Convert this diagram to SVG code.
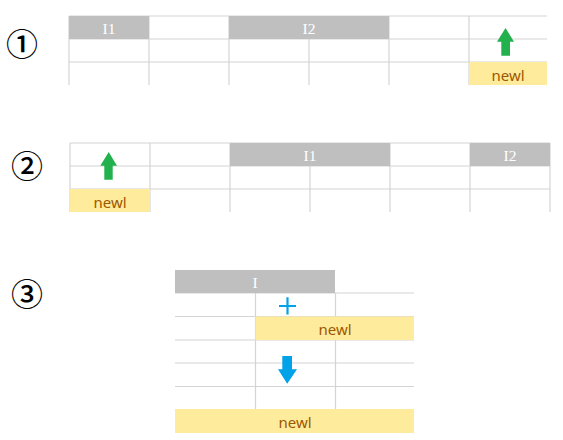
<svg xmlns="http://www.w3.org/2000/svg" width="563" height="440" viewBox="0 0 563 440">
<style>
.grid line{stroke:#d4d4d4;stroke-width:1.2}
.hdr{fill:#bfbfbf}
.hdrt{font-family:"Liberation Serif",serif;font-size:15.5px;fill:#ffffff;text-anchor:middle}
.nw{fill:#ffeb9c}
.nwt{font-family:"Noto Sans","Liberation Sans",sans-serif;font-size:15px;fill:#9c5700;text-anchor:middle}
.num{font-family:"Noto Sans CJK SC","DejaVu Sans",sans-serif;font-size:32px;font-weight:500;fill:#000;text-anchor:middle}
.ga{fill:#22b14c}
.ba{fill:#00a2e8}
</style>
<rect width="563" height="440" fill="#ffffff"/>
<!-- Panel 1 -->
<g id="panel1">
<text class="num" x="22" y="56">①</text>
<g class="grid">
<line x1="69" y1="16" x2="547" y2="16"/>
<line x1="69" y1="39" x2="547" y2="39"/>
<line x1="69" y1="62" x2="547" y2="62"/>
<line x1="69" y1="16" x2="69" y2="85"/>
<line x1="149" y1="16" x2="149" y2="85"/>
<line x1="229" y1="16" x2="229" y2="85"/>
<line x1="309" y1="39" x2="309" y2="85"/>
<line x1="389" y1="16" x2="389" y2="85"/>
<line x1="469" y1="16" x2="469" y2="85"/>
</g>
<rect class="hdr" x="69" y="16" width="80" height="23"/>
<rect class="hdr" x="229" y="16" width="160" height="23"/>
<text class="hdrt" x="109" y="34">I1</text>
<text class="hdrt" x="309" y="34">I2</text>
<rect class="nw" x="469" y="62" width="78" height="23"/>
<text class="nwt" x="508" y="81">newl</text>
<polygon class="ga" points="505.5,28 514,41.7 510,41.7 510,55.7 501.3,55.7 501.3,41.7 497,41.7"/>
</g>
<!-- Panel 2 -->
<g id="panel2">
<text class="num" x="27" y="178">②</text>
<g class="grid">
<line x1="70" y1="143" x2="550" y2="143"/>
<line x1="70" y1="166" x2="550" y2="166"/>
<line x1="70" y1="189" x2="550" y2="189"/>
<line x1="70" y1="143" x2="70" y2="212"/>
<line x1="150" y1="143" x2="150" y2="212"/>
<line x1="230" y1="143" x2="230" y2="212"/>
<line x1="310" y1="166" x2="310" y2="212"/>
<line x1="390" y1="143" x2="390" y2="212"/>
<line x1="470" y1="143" x2="470" y2="212"/>
<line x1="550" y1="143" x2="550" y2="212"/>
</g>
<rect class="hdr" x="230" y="143" width="160" height="23"/>
<rect class="hdr" x="470" y="143" width="80" height="23"/>
<text class="hdrt" x="310" y="161">I1</text>
<text class="hdrt" x="510" y="161">I2</text>
<rect class="nw" x="70" y="189" width="80" height="23"/>
<text class="nwt" x="110" y="208">newl</text>
<polygon class="ga" points="108.7,152 117,165.7 112.7,165.7 112.7,179.7 104.3,179.7 104.3,165.7 100.3,165.7"/>
</g>
<!-- Panel 3 -->
<g id="panel3">
<text class="num" x="27" y="306">③</text>
<g class="grid">
<line x1="175" y1="293" x2="414" y2="293"/>
<line x1="175" y1="316.5" x2="414" y2="316.5"/>
<line x1="175" y1="340" x2="414" y2="340"/>
<line x1="175" y1="363" x2="414" y2="363"/>
<line x1="175" y1="386.5" x2="414" y2="386.5"/>
<line x1="255.5" y1="293" x2="255.5" y2="409"/>
<line x1="335.5" y1="293" x2="335.5" y2="409"/>
</g>
<rect class="hdr" x="175" y="270" width="160" height="23"/>
<text class="hdrt" x="255" y="288">I</text>
<rect class="nw" x="255.5" y="316.5" width="158.5" height="23.5"/>
<text class="nwt" x="335" y="335">newl</text>
<rect class="nw" x="175" y="409" width="239" height="24"/>
<text class="nwt" x="295" y="428">newl</text>
<path d="M279 306 H296 M287.5 297.3 V314.5" stroke="#00a2e8" stroke-width="2.2" fill="none"/>
<polygon class="ba" points="282.3,356 292,356 292,369.3 297,369.3 287.2,383.7 278,369.3 282.3,369.3"/>
</g>
</svg>
